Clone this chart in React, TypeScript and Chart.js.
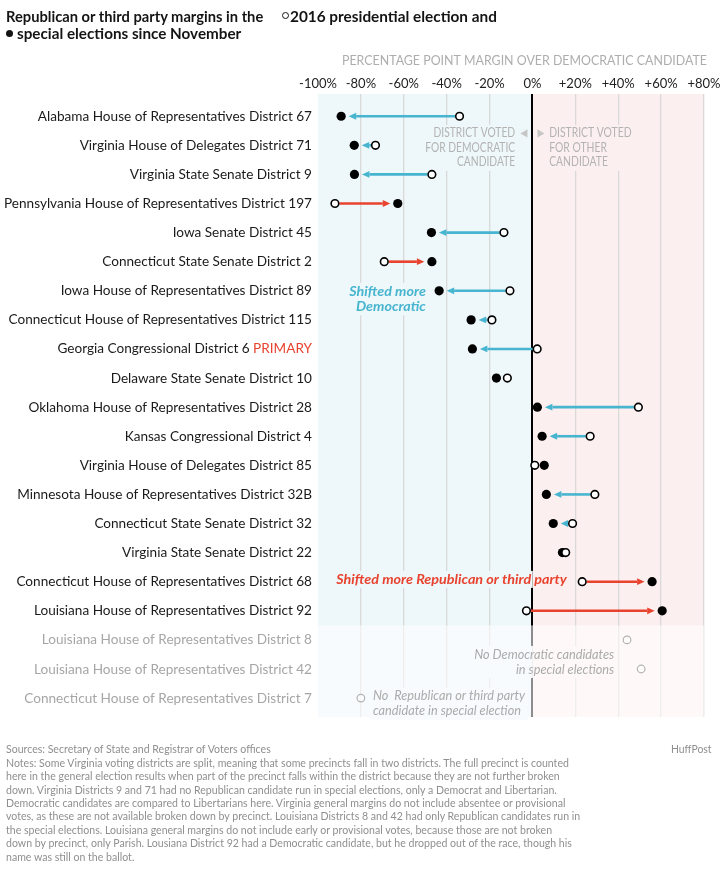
import React, { useEffect, useLayoutEffect, useRef, useState } from "react";
import { Chart, registerables } from "chart.js";

Chart.register(...registerables);

const FONT = "Lato, 'Noto Sans', sans-serif";

// ---------- data ----------
const districts: string[] = [
  "Alabama House of Representatives District 67",
  "Virginia House of Delegates District 71",
  "Virginia State Senate District 9",
  "Pennsylvania House of Representatives District 197",
  "Iowa Senate District 45",
  "Connecticut State Senate District 2",
  "Iowa House of Representatives District 89",
  "Connecticut House of Representatives District 115",
  "Georgia Congressional District 6",
  "Delaware State Senate District 10",
  "Oklahoma House of Representatives District 28",
  "Kansas Congressional District 4",
  "Virginia House of Delegates District 85",
  "Minnesota House of Representatives District 32B",
  "Connecticut State Senate District 32",
  "Virginia State Senate District 22",
  "Connecticut House of Representatives District 68",
  "Louisiana House of Representatives District 92",
  "Louisiana House of Representatives District 8",
  "Louisiana House of Representatives District 42",
  "Connecticut House of Representatives District 7",
];

const taggedDistrict = "Georgia Congressional District 6";
const tagText = "PRIMARY";

// 2016 presidential margin (Republican / third party over Democrat), percentage points
const margin2016: number[] = [
  -34.0, -73.2, -46.9, -92.1, -13.3, -69.1, -10.5, -18.9, 2.2, -11.7, 49.4,
  26.9, 1.1, 29.1, 18.7, 15.5, 23.2, -2.8, 44.1, 50.7, -80.0,
];

// special election margin
const marginSpecial: (number | null)[] = [
  -89.2, -83.1, -83.0, -62.8, -47.1, -46.9, -43.5, -28.6, -28.0, -16.8, 2.3,
  4.5, 5.5, 6.5, 9.7, 14.0, 55.8, 60.5, null, null, null,
];

const xTicks: number[] = [-100, -80, -60, -40, -20, 0, 20, 40, 60, 80];

const axisTitle = "PERCENTAGE POINT MARGIN OVER DEMOCRATIC CANDIDATE";

const titleLine1a = "Republican or third party margins in the";
const titleLine1b = "2016 presidential election and";
const titleLine2 = "special elections since November";

const noteLines: string[] = [
  "Sources: Secretary of State and Registrar of Voters offices",
  "Notes: Some Virginia voting districts are split, meaning that some precincts fall in two districts. The full precinct is counted",
  "here in the general election results when part of the precinct falls within the district because they are not further broken",
  "down. Virginia Districts 9 and 71 had no Republican candidate run in special elections, only a Democrat and Libertarian.",
  "Democratic candidates are compared to Libertarians here. Virginia general margins do not include absentee or provisional",
  "votes, as these are not available broken down by precinct. Louisiana Districts 8 and 42 had only Republican candidates run in",
  "the special elections. Louisiana general margins do not include early or provisional votes, because those are not broken",
  "down by precinct, only Parish. Lousiana District 92 had a Democratic candidate, but he dropped out of the race, though his",
  "name was still on the ballot.",
];

// ---------- styles ----------
const BLUE = "#47b5cf";
const RED = "#e8432f";
const BLUE_BG = "#eef7fa";
const PINK_BG = "#fcefef";
const FADE = "rgba(255,255,255,0.55)";
const GRID = "#d9d9d9";

type Note = {
  lines: string[];
  x: number; // data value anchor
  y: number; // row index anchor
  align: "left" | "right";
  font: string;
  color: string;
  refWidth: number;
  gap: number;
};

const annotations: Note[] = [
  {
    lines: ["DISTRICT VOTED", "FOR DEMOCRATIC", "CANDIDATE"],
    x: -8.05, y: 0.59, align: "right", font: `12.5px ${FONT}`, color: "#b3b3b3", refWidth: 81.7, gap: 14.5,
  },
  {
    lines: ["DISTRICT VOTED", "FOR OTHER", "CANDIDATE"],
    x: 7.8, y: 0.59, align: "left", font: `12.5px ${FONT}`, color: "#b3b3b3", refWidth: 82.4, gap: 14.5,
  },
  {
    lines: ["Shifted more", "Democratic"],
    x: -49.7, y: 6.02, align: "right", font: `italic bold 14px ${FONT}`, color: BLUE, refWidth: 76.7, gap: 15.5,
  },
  {
    lines: ["Shifted more Republican or third party"],
    x: -91.5, y: 15.92, align: "left", font: `italic bold 14px ${FONT}`, color: RED, refWidth: 230.7, gap: 15,
  },
  {
    lines: ["No Democratic candidates", "in special elections"],
    x: 38.1, y: 18.5, align: "right", font: `italic 13px ${FONT}`, color: "#ababab", refWidth: 140, gap: 15,
  },
  {
    lines: ["No  Republican or third party", "candidate in special election"],
    x: -74.4, y: 19.93, align: "left", font: `italic 13px ${FONT}`, color: "#ababab", refWidth: 152.3, gap: 15,
  },
];

function drawScaled(ctx: CanvasRenderingContext2D, text: string, x: number, y: number, align: CanvasTextAlign, sx: number) {
  ctx.save();
  ctx.translate(x, y);
  ctx.scale(sx, 1);
  ctx.textAlign = align;
  ctx.textBaseline = "middle";
  ctx.fillText(text, 0, 0);
  ctx.restore();
}

function regionRect(ctx: CanvasRenderingContext2D, x0: number, x1: number, y0: number, y1: number, zx: number, faded: boolean) {
  if (x0 < zx) {
    ctx.fillStyle = BLUE_BG;
    ctx.fillRect(x0, y0, Math.min(x1, zx) - x0, y1 - y0);
  }
  if (x1 > zx) {
    const s = Math.max(x0, zx);
    ctx.fillStyle = PINK_BG;
    ctx.fillRect(s, y0, x1 - s, y1 - y0);
  }
  if (faded) {
    ctx.fillStyle = FADE;
    ctx.fillRect(x0, y0, x1 - x0, y1 - y0);
  }
}

const firstFadedRow = marginSpecial.findIndex((v) => v === null);

const decoPlugin = {
  id: "deco",
  beforeDraw(chart: any) {
    const { ctx, chartArea: a, scales } = chart;
    const zx = scales.x.getPixelForValue(0);
    ctx.save();
    ctx.fillStyle = BLUE_BG;
    ctx.fillRect(a.left, a.top, zx - a.left, a.bottom - a.top);
    ctx.fillStyle = PINK_BG;
    ctx.fillRect(zx, a.top, a.right - zx, a.bottom - a.top);
    ctx.restore();
  },
  beforeDatasetsDraw(chart: any) {
    const { ctx, chartArea: a, scales } = chart;
    const xs = scales.x;
    const ys = scales.y;
    const zx = xs.getPixelForValue(0);
    const split = ys.getPixelForValue(firstFadedRow - 0.5);
    ctx.save();

    // fade rows without a special election
    ctx.fillStyle = FADE;
    ctx.fillRect(a.left, split, a.right - a.left, a.bottom - split);

    // annotations
    for (const n of annotations) {
      ctx.font = n.font;
      const sx = n.refWidth / ctx.measureText(n.lines[0]).width;
      const ax = xs.getPixelForValue(n.x);
      const ay = ys.getPixelForValue(n.y);
      const widths = n.lines.map((l) => ctx.measureText(l).width * sx);
      const maxW = Math.max(...widths);
      const x0 = n.align === "right" ? ax - maxW : ax;
      const y0 = ay - 8.5;
      const y1 = ay + (n.lines.length - 1) * n.gap + 8.5;
      regionRect(ctx, x0 - 3, x0 + maxW + 3, y0, y1, zx, ay > split);
      ctx.font = n.font;
      ctx.fillStyle = n.color;
      n.lines.forEach((l, i) => drawScaled(ctx, l, ax, ay + i * n.gap, n.align, sx));
    }

    // direction triangles next to zero line
    const ty = ys.getPixelForValue(annotations[0].y);
    ctx.fillStyle = "#c6c6c6";
    ctx.beginPath();
    ctx.moveTo(zx - 5, ty - 4.2);
    ctx.lineTo(zx - 5, ty + 4.2);
    ctx.lineTo(zx - 12, ty);
    ctx.closePath();
    ctx.fill();
    ctx.beginPath();
    ctx.moveTo(zx + 5, ty - 4.2);
    ctx.lineTo(zx + 5, ty + 4.2);
    ctx.lineTo(zx + 12, ty);
    ctx.closePath();
    ctx.fill();

    // arrows from 2016 to special election
    margin2016.forEach((v0, i) => {
      const v1 = marginSpecial[i];
      if (v1 === null || v1 === undefined) return;
      const p0 = xs.getPixelForValue(v0);
      const p1 = xs.getPixelForValue(v1);
      const py = ys.getPixelForValue(i);
      const dir = p1 > p0 ? 1 : -1;
      const start = p0 + dir * 4.4;
      const tip = p1 - dir * 7.5;
      const len = (tip - start) * dir;
      if (len <= 0) return;
      const col = dir > 0 ? RED : BLUE;
      const head = Math.min(7.5, len);
      const base = tip - dir * head;
      ctx.strokeStyle = col;
      ctx.fillStyle = col;
      if ((base - start) * dir > 0) {
        ctx.lineWidth = 2.6;
        ctx.beginPath();
        ctx.moveTo(start, py);
        ctx.lineTo(base, py);
        ctx.stroke();
      }
      ctx.beginPath();
      ctx.moveTo(tip, py);
      ctx.lineTo(base, py - 3.4);
      ctx.lineTo(base, py + 3.4);
      ctx.closePath();
      ctx.fill();
    });

    // row labels
    ctx.font = `14px ${FONT}`;
    const lsx = 308 / ctx.measureText(districts[3]).width;
    const lx = a.left - 6;
    districts.forEach((d, i) => {
      const py = ys.getPixelForValue(i);
      const faded = marginSpecial[i] === null;
      ctx.fillStyle = faded ? "#a6a6a6" : "#1a1a1a";
      if (d === taggedDistrict) {
        const lead = d + " ";
        const wFull = ctx.measureText(lead + tagText).width * lsx;
        const sx0 = lx - wFull;
        drawScaled(ctx, lead, sx0, py, "left", lsx);
        ctx.fillStyle = RED;
        drawScaled(ctx, tagText, sx0 + ctx.measureText(lead).width * lsx, py, "left", lsx);
      } else {
        drawScaled(ctx, d, lx, py, "right", lsx);
      }
    });

    // axis title
    ctx.font = `13px ${FONT}`;
    const tsx = 365 / ctx.measureText(axisTitle).width;
    ctx.fillStyle = "#adadad";
    drawScaled(ctx, axisTitle, a.right + 3, a.top - 33, "right", tsx);

    ctx.restore();
  },
};

function FitText(props: { text: string; left: number; top: number; width: number; style?: React.CSSProperties }) {
  const ref = useRef<HTMLSpanElement>(null);
  const [sx, setSx] = useState(1);
  useLayoutEffect(() => {
    const el = ref.current;
    if (!el) return;
    const w = el.offsetWidth;
    if (w > 0) setSx(props.width / w);
  }, [props.width, props.text]);
  return (
    <span
      ref={ref}
      style={{
        position: "absolute",
        left: props.left,
        top: props.top,
        whiteSpace: "pre",
        transform: `scaleX(${sx})`,
        transformOrigin: "0 50%",
        ...props.style,
      }}
    >
      {props.text}
    </span>
  );
}

function Notes() {
  const refs = useRef<(HTMLDivElement | null)[]>([]);
  const [sx, setSx] = useState(1);
  useLayoutEffect(() => {
    const el = refs.current[5];
    if (el && el.offsetWidth > 0) setSx(574.4 / el.offsetWidth);
  }, []);
  return (
    <>
      {noteLines.map((l, i) => (
        <div
          key={i}
          ref={(e) => {
            refs.current[i] = e;
          }}
          style={{
            position: "absolute",
            left: 6.4,
            top: 742.3 + i * 13.4,
            height: 13.4,
            lineHeight: "13.4px",
            fontSize: 11.5,
            color: "#8f8f8f",
            whiteSpace: "pre",
            transform: `scaleX(${sx})`,
            transformOrigin: "0 50%",
          }}
        >
          {l}
        </div>
      ))}
    </>
  );
}

export default function App() {
  const canvasRef = useRef<HTMLCanvasElement>(null);

  useEffect(() => {
    const canvas = canvasRef.current;
    if (!canvas) return;
    const openData = margin2016.map((v, i) => ({ x: v, y: i }));
    const specialData = marginSpecial
      .map((v, i) => (v === null ? null : { x: v, y: i }))
      .filter((p) => p !== null) as { x: number; y: number }[];

    const chart = new Chart(canvas, {
      type: "scatter",
      data: {
        datasets: [
          {
            label: "2016 presidential election",
            data: openData,
            pointRadius: 3.8,
            pointBorderWidth: (c: any) => (marginSpecial[c.dataIndex] === null ? 1.2 : 1.6),
            pointBackgroundColor: (c: any) => (marginSpecial[c.dataIndex] === null ? "rgba(255,255,255,0.5)" : "#ffffff"),
            pointBorderColor: (c: any) => (marginSpecial[c.dataIndex] === null ? "#b3b3b3" : "#000000"),
            showLine: false,
          } as any,
          {
            label: "Special elections since November",
            data: specialData,
            pointRadius: 4.6,
            pointBorderWidth: 0,
            pointBackgroundColor: "#000000",
            pointBorderColor: "#000000",
            showLine: false,
          } as any,
        ],
      },
      options: {
        animation: false,
        responsive: false,
        events: [],
        layout: { padding: { left: 318, right: 16, top: 74.4, bottom: 158.3 } },
        plugins: {
          legend: { display: false },
          tooltip: { enabled: false },
          title: { display: false },
        },
        scales: {
          x: {
            type: "linear",
            position: "top",
            min: xTicks[0],
            max: xTicks[xTicks.length - 1],
            afterBuildTicks: (s: any) => {
              s.ticks = xTicks.map((v) => ({ value: v }));
            },
            afterFit: (s: any) => {
              s.paddingLeft = 0;
              s.paddingRight = 0;
            },
            ticks: {
              autoSkip: false,
              maxRotation: 0,
              padding: 2,
              color: "#222222",
              font: { family: FONT, size: 13 },
              callback: (v: any) => (Number(v) > 0 ? "+" : "") + v + "%",
            },
            grid: {
              drawTicks: false,
              color: (c: any) =>
                c.tick && c.tick.value === 0 ? "#000000" : c.tick && c.tick.value === xTicks[0] ? "rgba(0,0,0,0)" : GRID,
              lineWidth: (c: any) => (c.tick && c.tick.value === 0 ? 2 : 1.3),
            },
            border: { display: false },
          },
          y: {
            type: "linear",
            reverse: true,
            min: -0.764,
            max: 20.64,
            display: false,
          },
        },
      } as any,
      plugins: [decoPlugin],
    });
    return () => chart.destroy();
  }, []);

  return (
    <div
      style={{
        position: "absolute",
        left: 0,
        top: 0,
        width: 720,
        height: 875,
        background: "#ffffff",
        fontFamily: FONT,
        overflow: "hidden",
      }}
    >
      <canvas ref={canvasRef} width={720} height={875} style={{ position: "absolute", left: 0, top: 0 }} />
      <FitText
        text={titleLine1a}
        left={6.4}
        top={6.5}
        width={257.6}
        style={{ fontWeight: 700, fontSize: 15, lineHeight: "18px", color: "#141414" }}
      />
      <span
        style={{
          position: "absolute",
          left: 281.8,
          top: 12.2,
          width: 7,
          height: 7,
          borderRadius: "50%",
          border: "1.3px solid #141414",
          boxSizing: "border-box",
          background: "#fff",
        }}
      />
      <FitText
        text={titleLine1b}
        left={289.5}
        top={6.5}
        width={206.7}
        style={{ fontWeight: 700, fontSize: 15, lineHeight: "18px", color: "#141414" }}
      />
      <span
        style={{
          position: "absolute",
          left: 5.8,
          top: 29.6,
          width: 7,
          height: 7,
          borderRadius: "50%",
          background: "#141414",
        }}
      />
      <FitText
        text={titleLine2}
        left={16.5}
        top={23.8}
        width={224.5}
        style={{ fontWeight: 700, fontSize: 15, lineHeight: "18px", color: "#141414" }}
      />
      <Notes />
      <FitText
        text="HuffPost"
        left={671}
        top={742.3}
        width={40.6}
        style={{ fontSize: 11.5, lineHeight: "13.4px", color: "#8f8f8f" }}
      />
    </div>
  );
}
